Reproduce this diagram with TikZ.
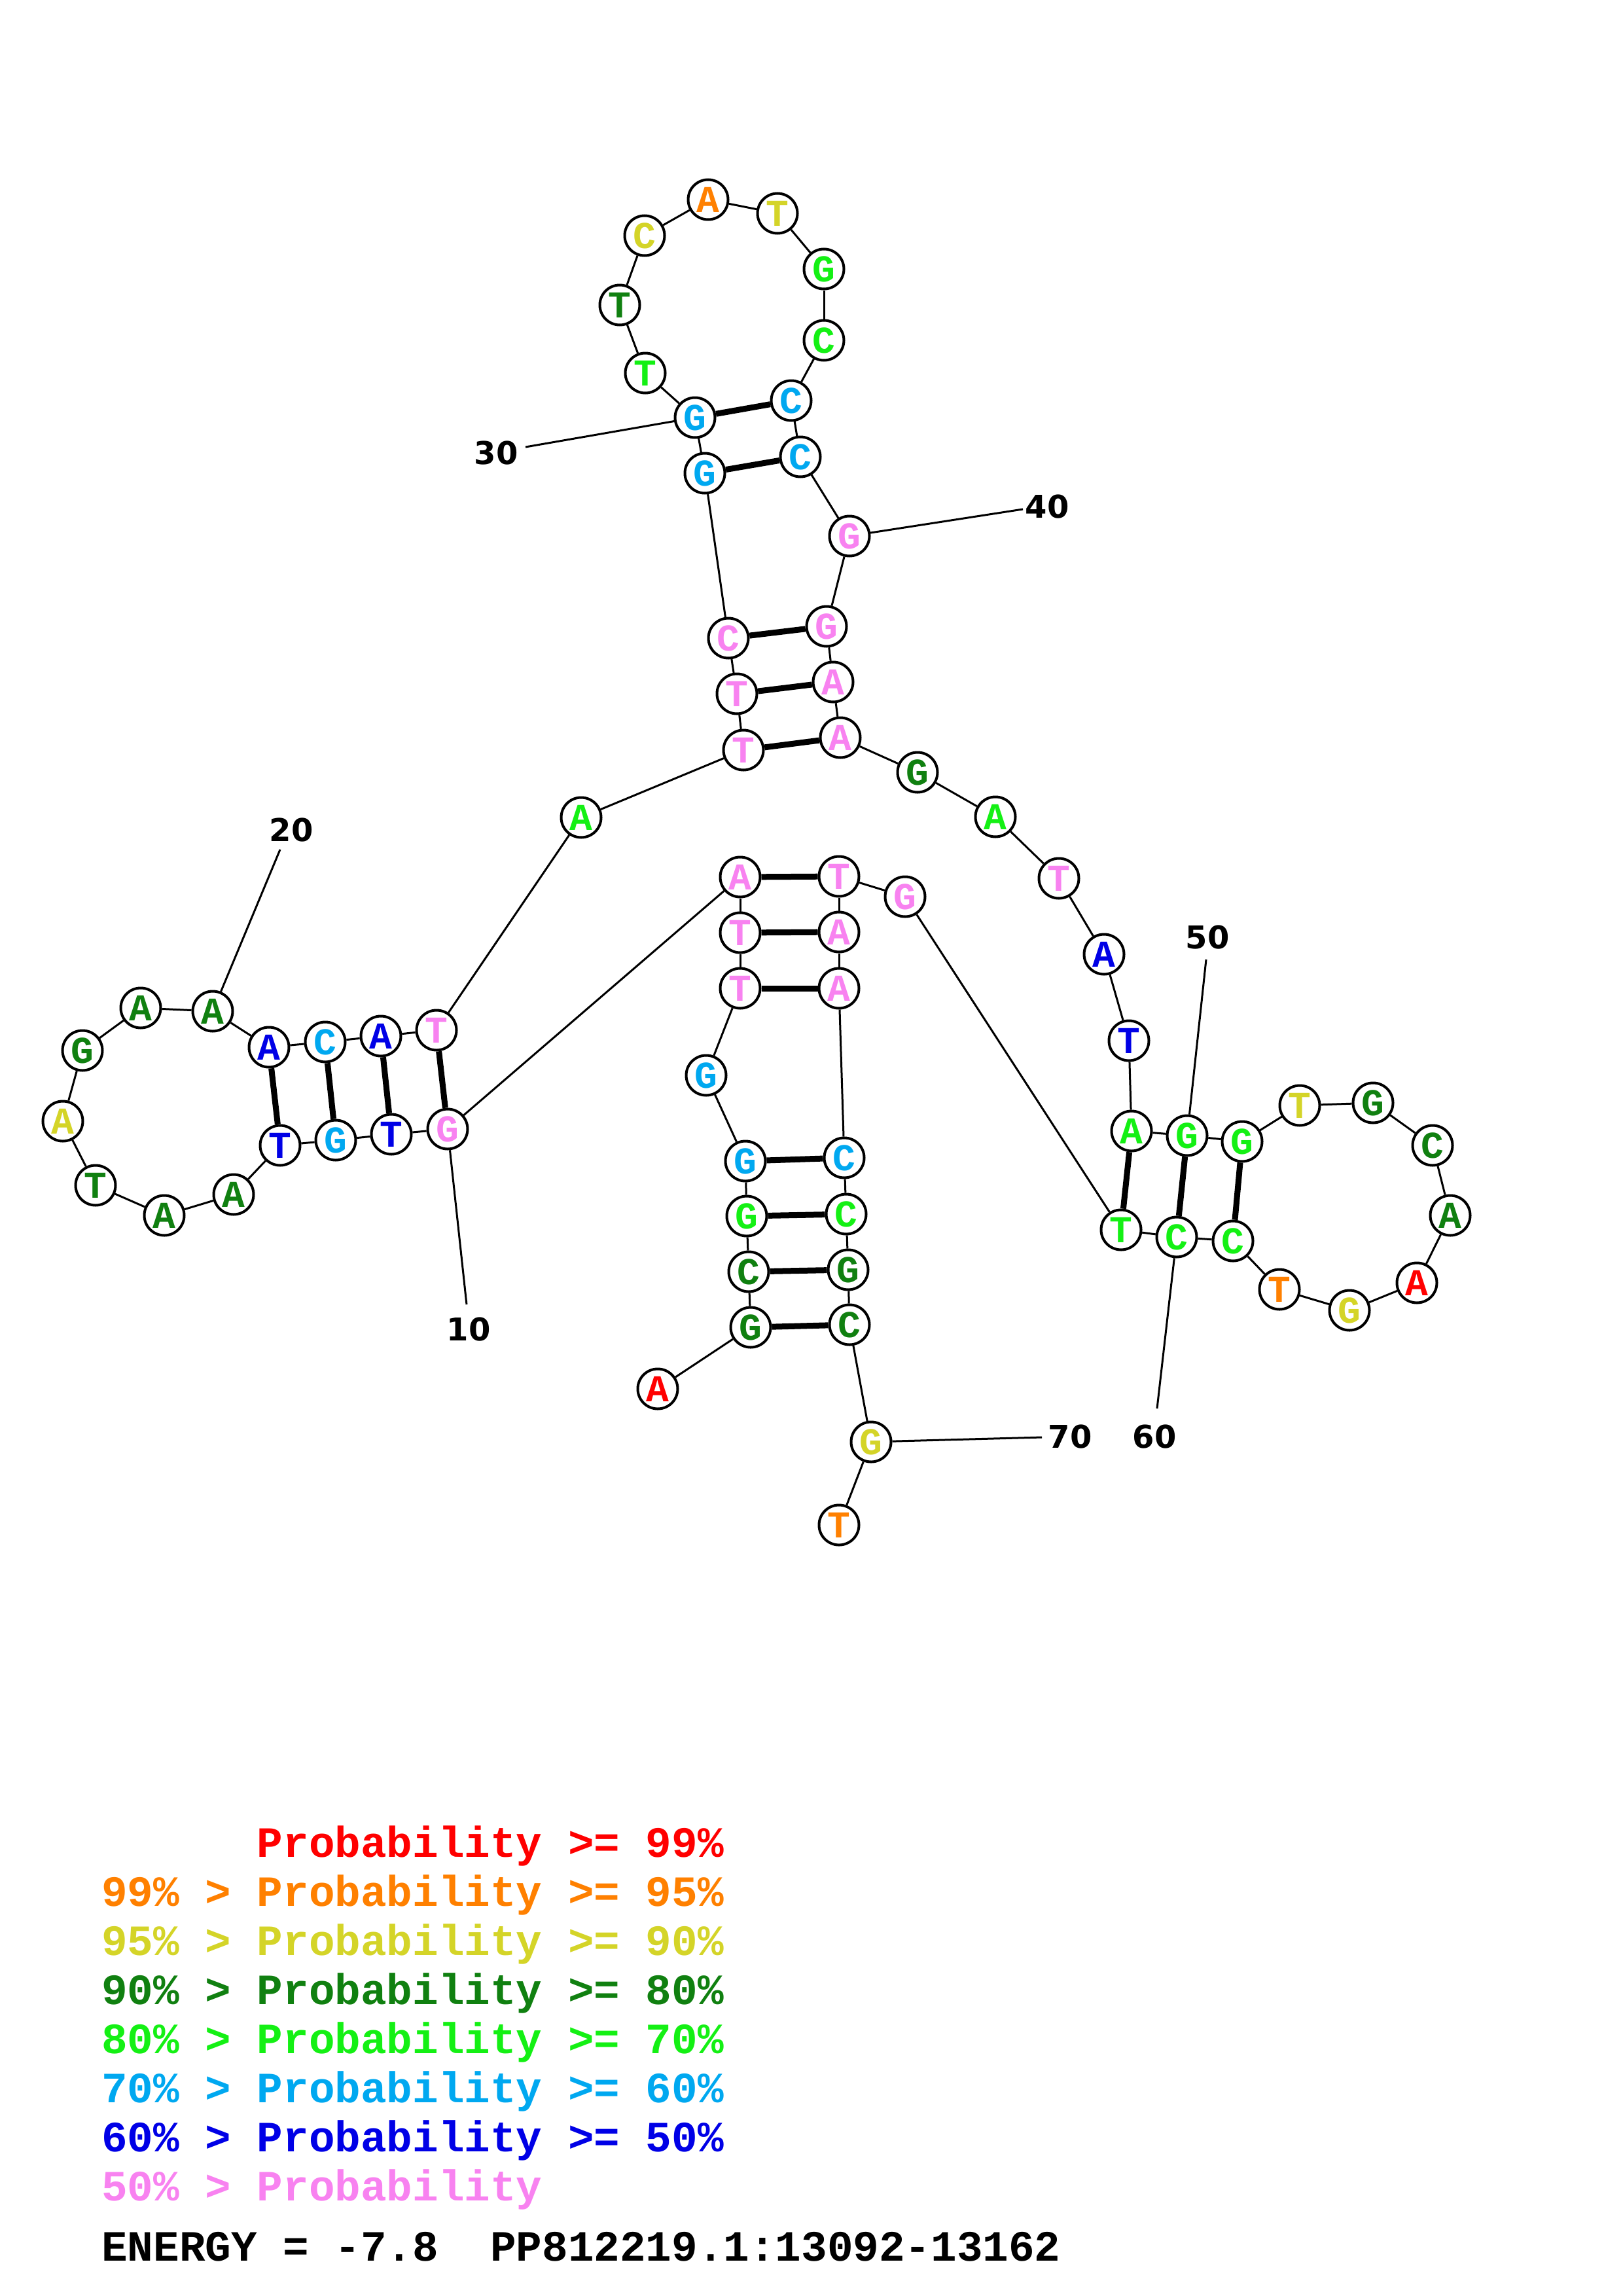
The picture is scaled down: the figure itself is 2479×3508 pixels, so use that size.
\documentclass[tikz,border=0pt]{standalone}
\usepackage{fontspec}
\newfontfamily\monof{Liberation Mono}
\newfontfamily\numf{DejaVu Sans}
\definecolor{cRed}{RGB}{255,0,0}
\definecolor{cOr}{RGB}{255,128,0}
\definecolor{cYe}{RGB}{212,212,40}
\definecolor{cDg}{RGB}{16,128,16}
\definecolor{cG}{RGB}{20,240,20}
\definecolor{cLb}{RGB}{0,168,240}
\definecolor{cBl}{RGB}{0,0,230}
\definecolor{cPk}{RGB}{248,130,240}
\tikzset{
  nt/.style={circle, draw=black, line width=4pt, fill=white, minimum size=61pt, inner sep=0pt,
    font=\monof\bfseries\fontsize{58}{58}\selectfont},
  bb/.style={line width=3pt},
  bp/.style={line width=9pt},
  lbl/.style={inner sep=0pt, font=\numf\bfseries\fontsize{48}{48}\selectfont},
  leg/.style={anchor=base west, inner sep=0pt, font=\monof\bfseries\fontsize{66}{66}\selectfont},
}
\begin{document}
\begin{tikzpicture}[x=1pt,y=-1pt]
\path[use as bounding box] (0,0) rectangle (2479,3508);
% nucleotides
\node[nt,text=cRed] (n1) at (1005,2122) {A};
\node[nt,text=cDg] (n2) at (1147,2028) {G};
\node[nt,text=cDg] (n3) at (1144,1943) {C};
\node[nt,text=cG] (n4) at (1141,1858) {G};
\node[nt,text=cLb] (n5) at (1139,1774) {G};
\node[nt,text=cLb] (n6) at (1079,1643) {G};
\node[nt,text=cPk] (n7) at (1131,1510) {T};
\node[nt,text=cPk] (n8) at (1131,1425) {T};
\node[nt,text=cPk] (n9) at (1131,1340) {A};
\node[nt,text=cPk] (n10) at (684,1725) {G};
\node[nt,text=cBl] (n11) at (598,1733) {T};
\node[nt,text=cLb] (n12) at (513,1742) {G};
\node[nt,text=cBl] (n13) at (428,1750) {T};
\node[nt,text=cDg] (n14) at (357,1825) {A};
\node[nt,text=cDg] (n15) at (251,1857) {A};
\node[nt,text=cDg] (n16) at (146,1811) {T};
\node[nt,text=cYe] (n17) at (96,1713) {A};
\node[nt,text=cDg] (n18) at (126,1605) {G};
\node[nt,text=cDg] (n19) at (215,1540) {A};
\node[nt,text=cDg] (n20) at (325,1545) {A};
\node[nt,text=cBl] (n21) at (411,1600) {A};
\node[nt,text=cLb] (n22) at (497,1592) {C};
\node[nt,text=cBl] (n23) at (582,1583) {A};
\node[nt,text=cPk] (n24) at (667,1574) {T};
\node[nt,text=cG] (n25) at (888,1249) {A};
\node[nt,text=cPk] (n26) at (1136,1146) {T};
\node[nt,text=cPk] (n27) at (1126,1060) {T};
\node[nt,text=cPk] (n28) at (1113,975) {C};
\node[nt,text=cLb] (n29) at (1077,723) {G};
\node[nt,text=cLb] (n30) at (1062,638) {G};
\node[nt,text=cG] (n31) at (986,570) {T};
\node[nt,text=cDg] (n32) at (947,466) {T};
\node[nt,text=cYe] (n33) at (985,360) {C};
\node[nt,text=cOr] (n34) at (1082,305) {A};
\node[nt,text=cYe] (n35) at (1188,326) {T};
\node[nt,text=cG] (n36) at (1259,411) {G};
\node[nt,text=cG] (n37) at (1259,520) {C};
\node[nt,text=cLb] (n38) at (1209,612) {C};
\node[nt,text=cLb] (n39) at (1223,698) {C};
\node[nt,text=cPk] (n40) at (1298,819) {G};
\node[nt,text=cPk] (n41) at (1263,957) {G};
\node[nt,text=cPk] (n42) at (1273,1042) {A};
\node[nt,text=cPk] (n43) at (1284,1127) {A};
\node[nt,text=cDg] (n44) at (1402,1180) {G};
\node[nt,text=cG] (n45) at (1521,1248) {A};
\node[nt,text=cPk] (n46) at (1618,1342) {T};
\node[nt,text=cBl] (n47) at (1687,1458) {A};
\node[nt,text=cBl] (n48) at (1725,1590) {T};
\node[nt,text=cG] (n49) at (1729,1728) {A};
\node[nt,text=cG] (n50) at (1814,1735) {G};
\node[nt,text=cG] (n51) at (1898,1744) {G};
\node[nt,text=cYe] (n52) at (1986,1689) {T};
\node[nt,text=cDg] (n53) at (2098,1685) {G};
\node[nt,text=cDg] (n54) at (2189,1750) {C};
\node[nt,text=cDg] (n55) at (2216,1857) {A};
\node[nt,text=cRed] (n56) at (2165,1960) {A};
\node[nt,text=cYe] (n57) at (2062,2002) {G};
\node[nt,text=cOr] (n58) at (1955,1970) {T};
\node[nt,text=cG] (n59) at (1884,1896) {C};
\node[nt,text=cG] (n60) at (1798,1890) {C};
\node[nt,text=cG] (n61) at (1713,1879) {T};
\node[nt,text=cPk] (n62) at (1383,1370) {G};
\node[nt,text=cPk] (n63) at (1282,1339) {T};
\node[nt,text=cPk] (n64) at (1282,1424) {A};
\node[nt,text=cPk] (n65) at (1282,1510) {A};
\node[nt,text=cLb] (n66) at (1290,1769) {C};
\node[nt,text=cG] (n67) at (1293,1855) {C};
\node[nt,text=cDg] (n68) at (1296,1940) {G};
\node[nt,text=cDg] (n69) at (1298,2024) {C};
\node[nt,text=cYe] (n70) at (1331,2203) {G};
\node[nt,text=cOr] (n71) at (1282,2330) {T};
% backbone
\foreach \i [evaluate=\i as \j using {int(\i+1)}] in {1,...,70}
  \draw[bb] (n\i) -- (n\j);
% base pairs
\foreach \a/\b in {2/69,3/68,4/67,5/66,7/65,8/64,9/63,10/24,11/23,12/22,13/21,26/43,27/42,28/41,29/39,30/38,49/61,50/60,51/59}
  \draw[bp] (n\a) -- (n\b);
% number labels
\node[lbl] (l10) at (716,2031) {10};
\node[lbl] (l20) at (445,1268) {20};
\node[lbl] (l30) at (758,692) {30};
\node[lbl] (l40) at (1600,774) {40};
\node[lbl] (l50) at (1845,1432) {50};
\node[lbl] (l60) at (1764,2195) {60};
\node[lbl] (l70) at (1635,2195) {70};
\coordinate (c10) at (713,1993);
\coordinate (c20) at (428,1298);
\coordinate (c30) at (803,683);
\coordinate (c40) at (1563,778);
\coordinate (c50) at (1843,1466);
\coordinate (c60) at (1768,2152);
\coordinate (c70) at (1592,2196);
\draw[bb] (n10) -- (c10);
\draw[bb] (n20) -- (c20);
\draw[bb] (n30) -- (c30);
\draw[bb] (n40) -- (c40);
\draw[bb] (n50) -- (c50);
\draw[bb] (n60) -- (c60);
\draw[bb] (n70) -- (c70);
% legend
\node[leg,text=cRed] (g1) at (155,2837) {\phantom{99\% >}\ Probability >= 99\%};
\node[leg,text=cOr] (g2) at (155,2912) {99\% > Probability >= 95\%};
\node[leg,text=cYe] (g3) at (155,2987) {95\% > Probability >= 90\%};
\node[leg,text=cDg] (g4) at (155,3062) {90\% > Probability >= 80\%};
\node[leg,text=cG] (g5) at (155,3137) {80\% > Probability >= 70\%};
\node[leg,text=cLb] (g6) at (155,3212) {70\% > Probability >= 60\%};
\node[leg,text=cBl] (g7) at (155,3287) {60\% > Probability >= 50\%};
\node[leg,text=cPk] (g8) at (155,3362) {50\% > Probability};
\node[leg,text=black] (g9) at (155,3454) {ENERGY = -7.8\ \ PP812219.1:13092-13162};
\end{tikzpicture}
\end{document}
